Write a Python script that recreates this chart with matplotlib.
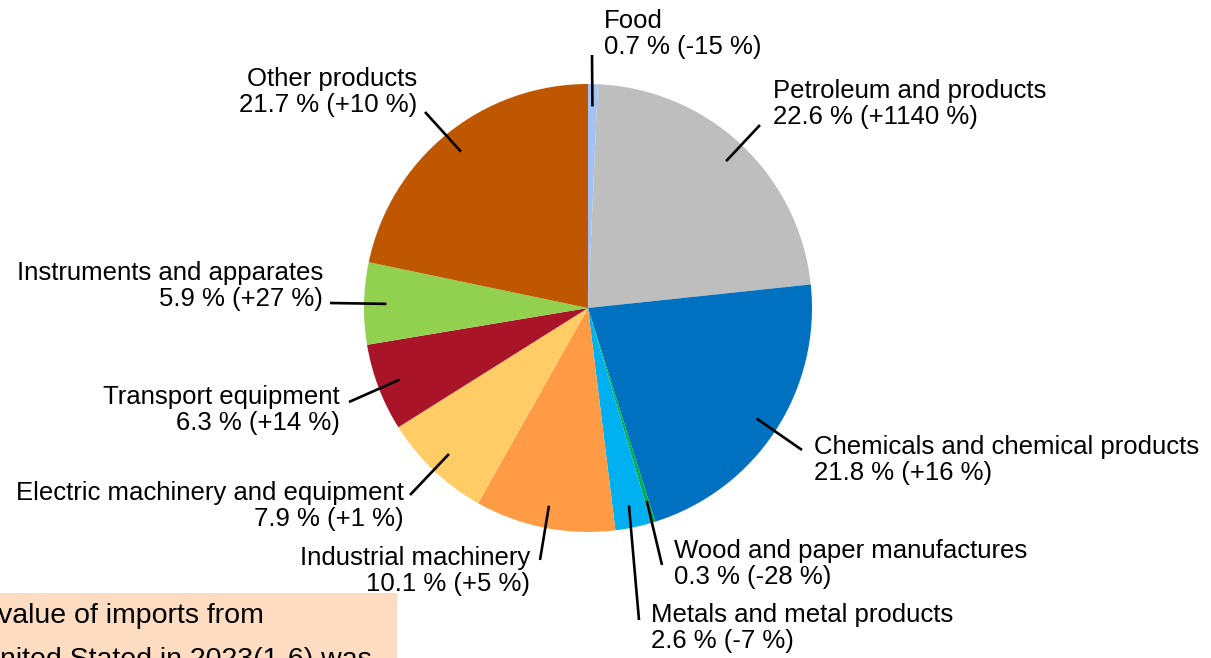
import numpy as np
import matplotlib.pyplot as plt
from matplotlib.patches import Rectangle

plt.rcParams['font.family'] = ['Liberation Sans', 'DejaVu Sans']

# Data: share of imports by commodity (clockwise from 12 o'clock)
names = ["Food", "Petroleum and products", "Chemicals and chemical products",
         "Wood and paper manufactures", "Metals and metal products",
         "Industrial machinery", "Electric machinery and equipment",
         "Transport equipment", "Instruments and apparates", "Other products"]
shares = [0.7, 22.6, 21.8, 0.3, 2.6, 10.1, 7.9, 6.3, 5.9, 21.7]
changes = ["-15", "+1140", "+16", "-28", "-7", "+5", "+1", "+14", "+27", "+10"]
colors = ["#A4C2F4", "#BDBEBD", "#0070C0", "#00B050", "#00B0F0",
          "#FF9A45", "#FFCC66", "#A91428", "#92D050", "#BF5700"]

W, H = 1211, 658
cx, cy, R = 588, 308, 224  # pie centre / radius in pixels

# label layout in pixels: line end, text anchor, alignment
line_end = [(592, 55), (760, 125), (802, 450), (662, 565), (639, 620),
            (540, 560), (410, 495), (349, 402), (330, 303), (425, 112)]
text_pos = [(604, 34), (773, 104), (814, 460), (674, 564), (651, 628),
            (530, 571), (404, 506), (340, 410), (323, 286), (417, 92)]
text_ha = ["left", "left", "left", "left", "left",
           "right", "right", "right", "right", "right"]

fig = plt.figure(figsize=(W / 100, H / 100), dpi=100)
ax = fig.add_axes([(cx - R) / W, (H - cy - R) / H, 2 * R / W, 2 * R / H])
ax.pie(shares, colors=colors, startangle=90, counterclock=False, radius=1,
       wedgeprops=dict(linewidth=0))
ax.set_xlim(-1, 1)
ax.set_ylim(-1, 1)
ax.set_aspect('equal')
ax.axis('off')


def px2data(px, py):
    return (px - cx) / R, (cy - py) / R


# leader lines + labels
total = sum(shares)
cum = np.cumsum([0] + shares[:-1])
for i, name in enumerate(names):
    mid = (cum[i] + shares[i] / 2) / total * 2 * np.pi
    x0, y0 = 0.9 * np.sin(mid), 0.9 * np.cos(mid)
    x1, y1 = px2data(*line_end[i])
    ax.plot([x0, x1], [y0, y1], color="black", lw=1.9, clip_on=False,
            solid_capstyle="butt")
    tx, ty = px2data(*text_pos[i])
    ax.text(tx, ty, f"{name}\n{shares[i]} % ({changes[i]} %)",
            ha=text_ha[i], va="center", fontsize=18.5, linespacing=1.1,
            multialignment="right" if text_ha[i] == "right" else "left")

# note box, partly cut off at lower left
fig.patches.append(Rectangle((0, 0), 397 / W, (H - 593) / H,
                             transform=fig.transFigure, facecolor="#FDDCC2",
                             edgecolor="none", zorder=0))
fig.text(-2 / W, (H - 623) / H, "value of imports from", fontsize=20.5,
         ha="left", va="baseline")
fig.text(0, (H - 667) / H, "nited Stated in 2023(1-6) was", fontsize=20.5,
         ha="left", va="baseline")

fig.savefig("out.png", dpi=100)
